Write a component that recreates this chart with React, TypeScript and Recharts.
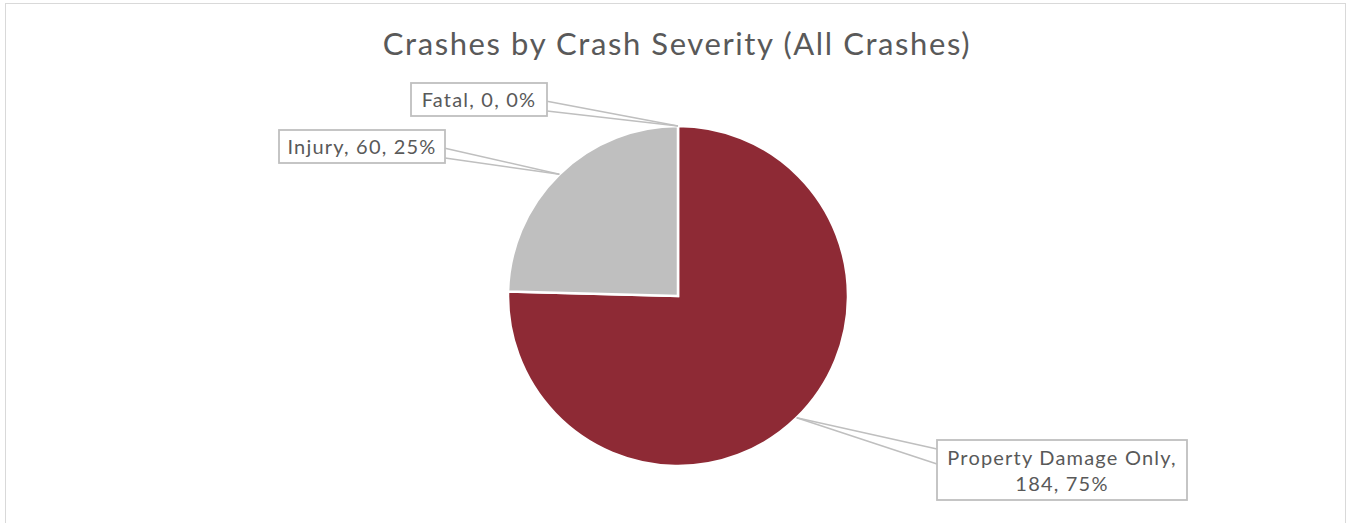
import { Cell, Pie, PieChart } from 'recharts'

const categories = ['Property Damage Only', 'Injury', 'Fatal']
const crashCounts = [184, 60, 0]
const sliceColors = ['#8E2A35', '#BFBFBF', '#5B9BD5']

// label box placement, relative to the pie centre (layout only)
const labelBoxes = [
  { dx: 259, dy: 144, w: 250, h: 60, side: 'left', lines: 2 },
  { dx: -399, dy: -166, w: 166, h: 33, side: 'right', lines: 1 },
  { dx: -267, dy: -213, w: 136, h: 33, side: 'right', lines: 1 },
]

const data = categories.map((name, i) => ({ name, value: crashCounts[i] }))

const FONT = '"Century Gothic", "Lato", "Open Sans", sans-serif'
const RAD = Math.PI / 180

function CalloutLabel(props: any) {
  const { cx, cy, midAngle, outerRadius, index, name, value, percent } = props
  const box = labelBoxes[index]
  const ax = cx + outerRadius * Math.cos(-midAngle * RAD)
  const ay = cy + outerRadius * Math.sin(-midAngle * RAD)
  const x = cx + box.dx
  const y = cy + box.dy
  const edgeX = box.side === 'left' ? x : x + box.w
  const f1 = box.side === 'left' ? 0.15 : 0.55
  const f2 = box.side === 'left' ? 0.4 : 0.85
  const pct = `${Math.round(percent * 100)}%`
  const txt = { fill: '#595959', fontSize: 20, fontFamily: FONT, letterSpacing: 1.2 }
  return (
    <g>
      <line x1={ax} y1={ay} x2={edgeX} y2={y + box.h * f1} stroke="#BFBFBF" strokeWidth={1.5} />
      <line x1={ax} y1={ay} x2={edgeX} y2={y + box.h * f2} stroke="#BFBFBF" strokeWidth={1.5} />
      <rect x={x} y={y} width={box.w} height={box.h} fill="#fff" stroke="#BFBFBF" strokeWidth={1.8} />
      {box.lines === 2 ? (
        <text x={x + box.w / 2} textAnchor="middle" {...txt}>
          <tspan x={x + box.w / 2} y={y + 25}>{`${name},`}</tspan>
          <tspan x={x + box.w / 2} y={y + 51}>{`${value}, ${pct}`}</tspan>
        </text>
      ) : (
        <text x={x + box.w / 2} y={y + 24} textAnchor="middle" {...txt}>
          {`${name}, ${value}, ${pct}`}
        </text>
      )}
    </g>
  )
}

export default function App() {
  return (
    <div style={{ position: 'absolute', left: 0, top: 0, width: 1351, height: 523, background: '#fff', overflow: 'hidden' }}>
      <div
        style={{
          position: 'absolute',
          left: 5,
          top: 3,
          width: 1341,
          height: 540,
          border: '1.5px solid #D9D9D9',
          boxSizing: 'border-box',
        }}
      />
      <svg width={1351} height={80} style={{ position: 'absolute', left: 0, top: 0 }}>
        <text x={677} y={55} textAnchor="middle" fill="#595959" fontSize={31} fontFamily={FONT} letterSpacing={1.6}>
          Crashes by Crash Severity (All Crashes)
        </text>
      </svg>
      <div style={{ position: 'absolute', left: 0, top: 0 }}>
        <PieChart width={1351} height={523} margin={{ top: 0, right: 0, bottom: 0, left: 0 }}>
          <Pie
            data={data}
            dataKey="value"
            nameKey="name"
            cx={678}
            cy={296}
            outerRadius={170}
            startAngle={90}
            endAngle={-270}
            stroke="#fff"
            strokeWidth={2.5}
            labelLine={false}
            label={CalloutLabel}
            isAnimationActive={false}
          >
            {data.map((d, i) => (
              <Cell key={d.name} fill={sliceColors[i]} />
            ))}
          </Pie>
        </PieChart>
      </div>
    </div>
  )
}
